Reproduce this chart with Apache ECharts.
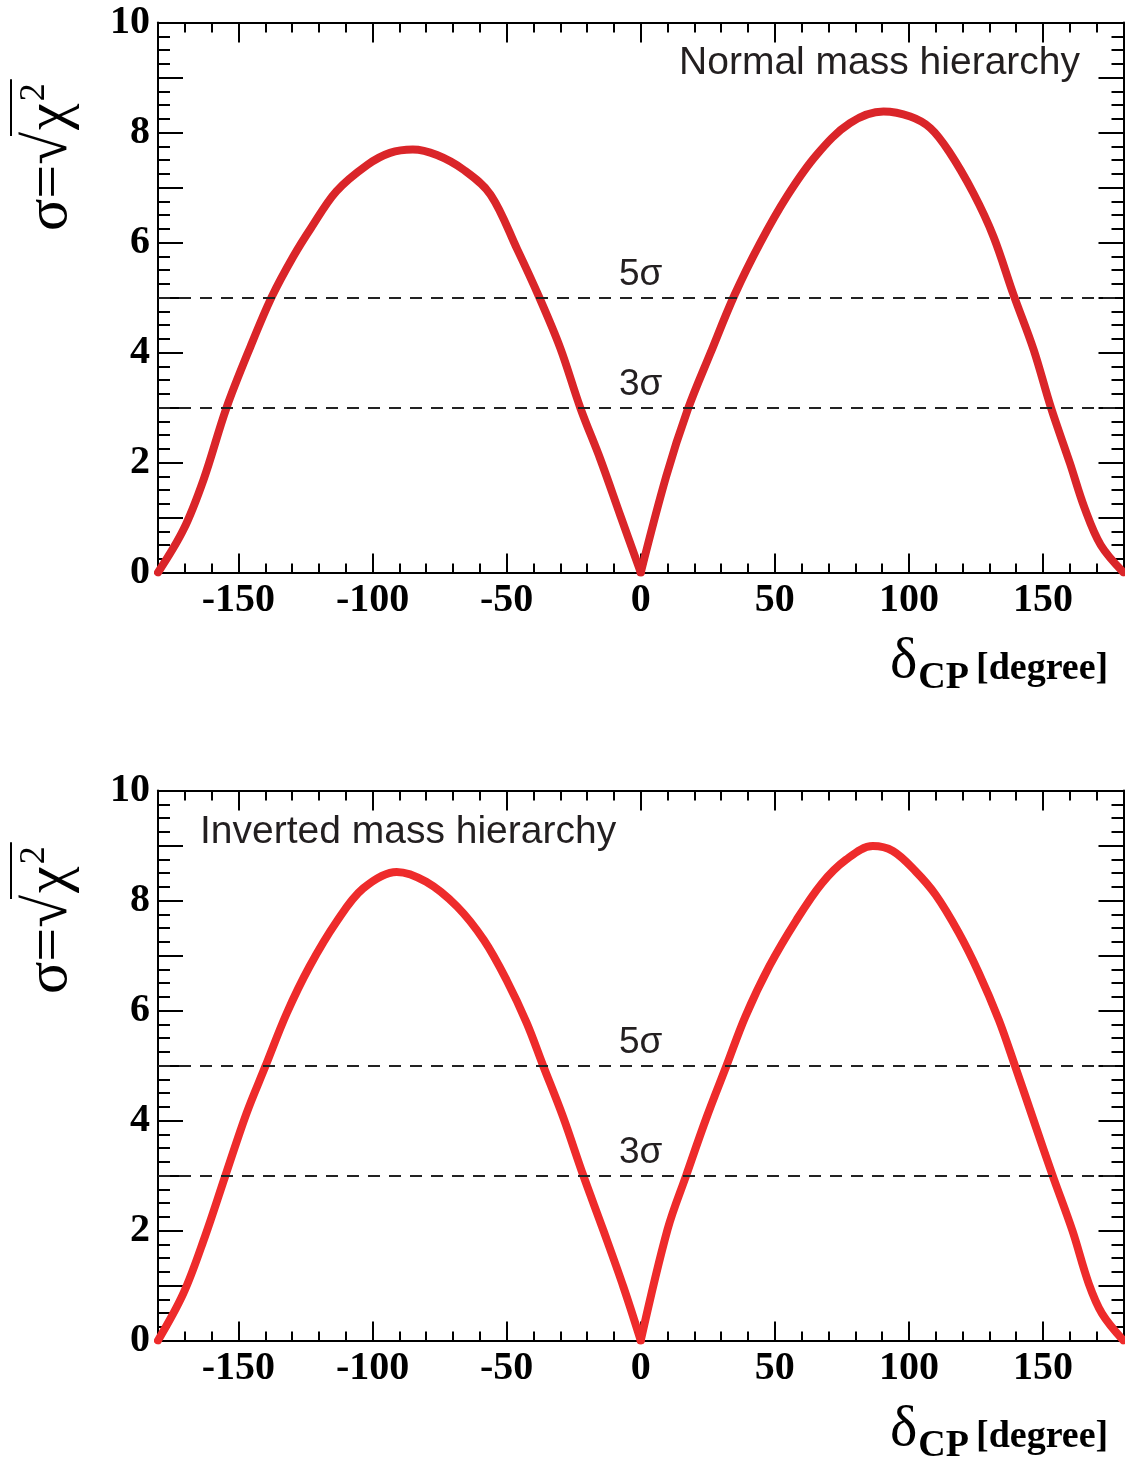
<!DOCTYPE html>
<html>
<head>
<meta charset="utf-8">
<script src="https://cdn.jsdelivr.net/npm/echarts@6/dist/echarts.min.js"></script>
<style>
  html, body { margin: 0; padding: 0; background: #fff; }
  #chart { width: 1125px; height: 1467px; }
</style>
</head>
<body>
<div id="chart"></div>
<script>
// ---- data -------------------------------------------------------------
const xMajorTicks = [-150, -100, -50, 0, 50, 100, 150];
const yLabelValues = [0, 2, 4, 6, 8, 10];
const sigmaLevels = [3, 5];
const panelTitles = ['Normal mass hierarchy', 'Inverted mass hierarchy'];

// sensitivity to exclude CP conservation vs. true delta_CP (degrees)
const deltaNormal = [-180, -170.5, -163, -154.5, -145.5, -137.5, -129.5, -123, -113.5, -102, -93.5, -85, -76, -66, -56, -46, -38, -30, -22.5, -15, -7.5, 0,
  9.5, 17.5, 26, 35, 44.5, 54.5, 65.5, 78, 90.5, 100.5, 108, 115, 124, 131.5, 139, 146.5, 153, 160, 165.5, 171.5, 180];
const sigmaNormal = [0, 0.78, 1.69, 2.99, 4.11, 5.02, 5.75, 6.26, 6.93, 7.41, 7.63, 7.69, 7.59, 7.32, 6.87, 5.87, 5.02, 4.08, 2.99, 2.05, 1.02, 0,
  1.75, 2.96, 3.99, 5.05, 5.99, 6.84, 7.59, 8.17, 8.38, 8.29, 8.08, 7.65, 6.90, 6.11, 5.05, 4.05, 2.99, 1.99, 1.17, 0.50, 0];

const deltaInverted = [-180, -170.5, -162.5, -155, -147, -140, -132, -123.5, -113.5, -103.5, -91, -80, -68.5, -58.5, -50, -42.5, -36.5, -29, -21.5, -14, -6.5, 0,
  10, 17, 24.5, 32, 39, 48, 58, 67.5, 76.5, 86.5, 94, 102.5, 110, 118.5, 126, 133.5, 139.5, 147, 153.5, 161, 167, 172, 180];
const sigmaInverted = [0, 0.86, 1.89, 2.98, 4.13, 4.98, 5.95, 6.80, 7.61, 8.22, 8.52, 8.34, 7.89, 7.28, 6.55, 5.77, 5.01, 4.07, 3.01, 2.01, 0.98, 0,
  2.02, 3.01, 4.05, 5.0, 5.89, 6.81, 7.64, 8.31, 8.74, 8.99, 8.90, 8.53, 8.10, 7.42, 6.69, 5.83, 5.0, 3.93, 3.01, 1.99, 1.04, 0.49, 0];

// ---- layout -----------------------------------------------------------
const ink = '#000';
const textInk = '#231f20';
const plotLeft = 158, plotWidth = 965.5, plotHeight = 550;
const panels = [
  { top: 22.5, delta: deltaNormal, sigma: sigmaNormal, color: '#da2529', yTitleY: 231 },
  { top: 790.5, delta: deltaInverted, sigma: sigmaInverted, color: '#ee2b2b', yTitleY: 994 }
];

const measureCtx = document.createElement('canvas').getContext('2d');
function measure(str, font) { measureCtx.font = font; return measureCtx.measureText(str).width; }
// y of a 'middle'-aligned text so that its alphabetic baseline lands on b
function mid(b, fs) { return b - 0.34 * fs; }

const tickLine = { color: ink, width: 2 };
const serifBold = { fontFamily: 'Liberation Serif', fontWeight: 'bold', fontSize: 40, color: ink };

function xAxesFor(g) {
  const out = [];
  ['bottom', 'top'].forEach(pos => {
    out.push({
      gridIndex: g, type: 'value', min: -180, max: 180, interval: 10, position: pos,
      axisLine: { show: true, onZero: false, lineStyle: { color: ink, width: 2 } },
      axisTick: { show: true, inside: true, length: pos === 'bottom' ? 9 : 10, lineStyle: tickLine },
      axisLabel: { show: false }, splitLine: { show: false }
    });
    out.push({
      gridIndex: g, type: 'value', min: -180, max: 180, position: pos,
      axisLine: { show: false, onZero: false },
      axisTick: { show: true, inside: true, length: pos === 'bottom' ? 19 : 20, customValues: xMajorTicks, lineStyle: tickLine },
      axisLabel: Object.assign({ show: pos === 'bottom', customValues: xMajorTicks, margin: 8 }, serifBold),
      splitLine: { show: false }
    });
  });
  return out;
}

function yAxesFor(g) {
  const out = [];
  ['left', 'right'].forEach(pos => {
    out.push({
      gridIndex: g, type: 'value', min: 0, max: 10, interval: 0.25, position: pos,
      axisLine: { show: true, onZero: false, lineStyle: { color: ink, width: 2 } },
      axisTick: { show: true, inside: true, length: 12, lineStyle: tickLine },
      axisLabel: { show: false }, splitLine: { show: false }
    });
    out.push({
      gridIndex: g, type: 'value', min: 0, max: 10, interval: 1, position: pos,
      axisLine: { show: false, onZero: false },
      axisTick: { show: true, inside: true, length: 25, lineStyle: tickLine },
      axisLabel: Object.assign({ show: pos === 'left', customValues: yLabelValues, margin: 8 }, serifBold),
      splitLine: { show: false }
    });
  });
  return out;
}

// rotated y-axis title: sigma = sqrt(chi^2)
function yTitle(ox, oy) {
  const fsMain = 60, fsSup = 36;
  const fMain = fsMain + 'px "Liberation Serif"';
  const fSup = fsSup + 'px "Liberation Serif"';
  const wA = measure('σ=√', fMain), wB = measure('χ', fMain), wC = measure('2', fSup);
  const txt = (s, x, y, font) => ({ type: 'text', x: x, y: y,
    style: { text: s, font: font, fill: ink, align: 'left', verticalAlign: 'middle', textAlign: 'left', textVerticalAlign: 'middle' } });
  return {
    type: 'group', x: ox, y: oy, rotation: Math.PI / 2,
    children: [
      txt('σ=√', 0, mid(0, fsMain), fMain),
      txt('χ', wA + 2, mid(0, fsMain), fMain),
      txt('2', wA + wB + 4, mid(-24, fsSup), fSup),
      { type: 'line', shape: { x1: wA - 4, y1: -60, x2: wA + wB + wC + 8, y2: -60 }, style: { stroke: ink, lineWidth: 2 } }
    ]
  };
}

// x-axis title: delta_CP [degree]
function xTitle(axisY) {
  const fD = '58px "Liberation Serif"';
  const fCP = 'bold 38px "Liberation Serif"';
  const fDeg = 'bold 38px "Liberation Serif"';
  const x0 = 890;
  const wD = measure('δ', fD);
  const t = (s, x, b, fs, font) => ({ type: 'text', x: x, y: mid(b, fs),
    style: { text: s, font: font, fill: ink, align: 'left', verticalAlign: 'middle', textAlign: 'left', textVerticalAlign: 'middle' } });
  return [
    t('δ', x0, axisY + 109, 58, fD),
    t('CP', x0 + wD + 1, axisY + 119, 38, fCP),
    t('[degree]', 976, axisY + 110, 38, fDeg)
  ];
}

const grids = panels.map(p => ({ left: plotLeft, top: p.top, width: plotWidth, height: plotHeight, outerBoundsMode: 'none', containLabel: false }));
let xAxes = [], yAxes = [];
panels.forEach((p, i) => { xAxes = xAxes.concat(xAxesFor(i)); yAxes = yAxes.concat(yAxesFor(i)); });

// each curve is drawn as two smoothed branches that meet at the cusp delta = 0
const series = [];
panels.forEach((p, i) => {
  const pts = p.delta.map((d, k) => [d, p.sigma[k]]);
  const branches = [pts.filter(q => q[0] <= 0), pts.filter(q => q[0] >= 0)];
  branches.forEach((data, b) => {
    const s = {
      type: 'line', xAxisIndex: i * 4, yAxisIndex: i * 4, data: data,
      smooth: 0.35, symbol: 'none', showSymbol: false, clip: true, z: 3, animation: false,
      lineStyle: { color: p.color, width: 8, join: 'round', cap: 'round' }
    };
    if (b === 0) {
      s.markLine = {
        silent: true, symbol: ['none', 'none'], animation: false,
        lineStyle: { color: '#222', width: 2, type: [12, 9] },
        label: { show: true, position: 'insideMiddleTop', distance: 4, fontFamily: 'Liberation Sans', fontSize: 37, color: textInk },
        data: sigmaLevels.map(v => ({ yAxis: v, label: { formatter: v + 'σ' } }))
      };
    }
    series.push(s);
  });
});

const captionFont = '39px "Liberation Sans"';
const graphics = [
  { type: 'text', x: 1080, y: mid(77, 39), style: { text: panelTitles[0], font: captionFont, fill: textInk, align: 'right', verticalAlign: 'middle', textAlign: 'right', textVerticalAlign: 'middle' } },
  { type: 'text', x: 200, y: mid(846, 39), style: { text: panelTitles[1], font: captionFont, fill: textInk, align: 'left', verticalAlign: 'middle', textAlign: 'left', textVerticalAlign: 'middle' } }
];
panels.forEach(p => {
  graphics.push(yTitle(71, p.yTitleY));
  xTitle(p.top + plotHeight).forEach(g => graphics.push(g));
});

const chart = echarts.init(document.getElementById('chart'), null, { renderer: 'canvas' });
chart.setOption({
  backgroundColor: '#fff',
  animation: false,
  grid: grids,
  xAxis: xAxes,
  yAxis: yAxes,
  series: series,
  graphic: { elements: graphics }
});
</script>
</body>
</html>
